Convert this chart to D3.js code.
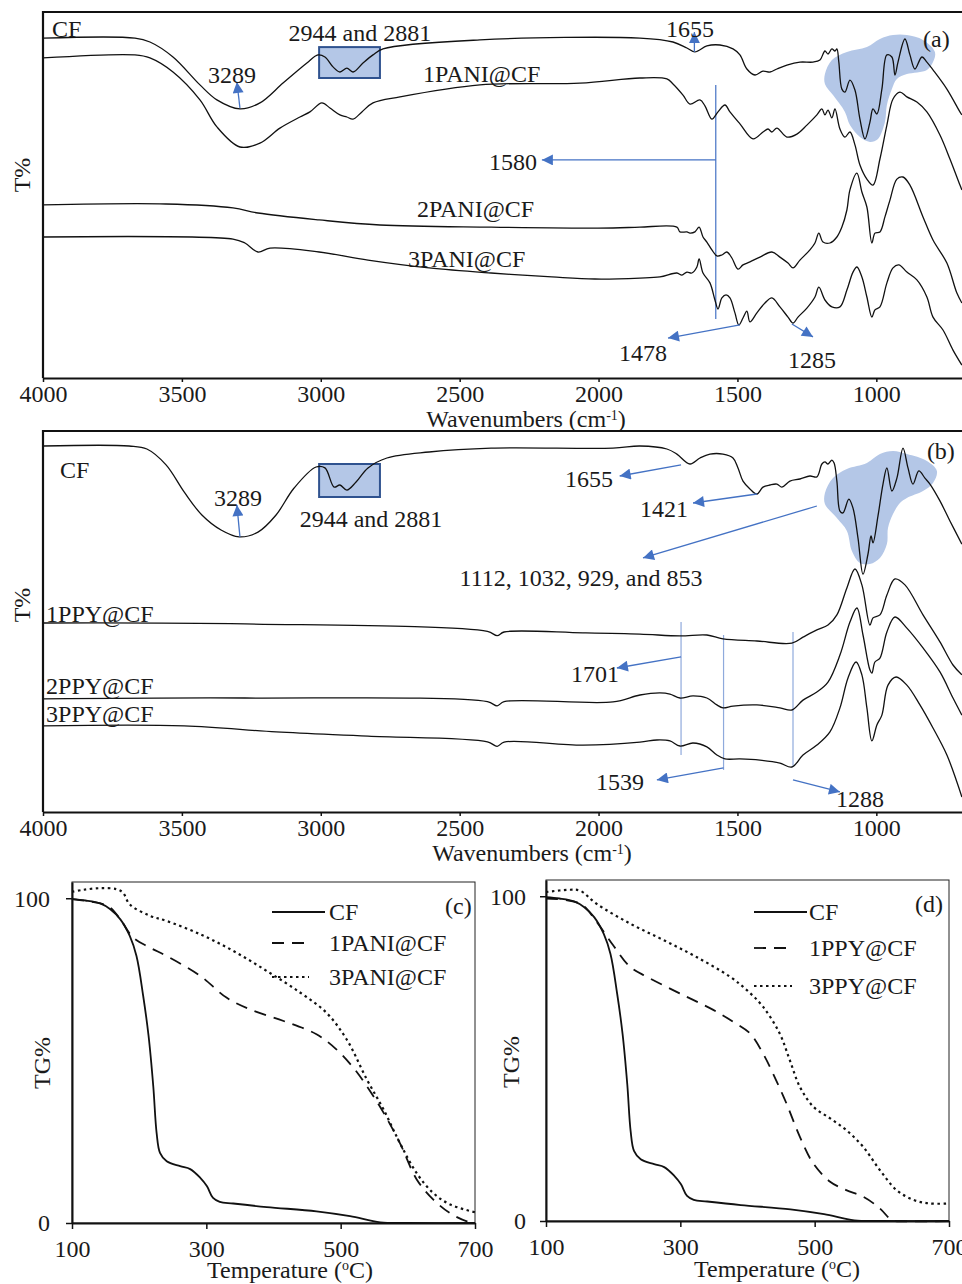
<!DOCTYPE html>
<html><head><meta charset="utf-8">
<script src="https://cdn.jsdelivr.net/npm/d3@7"></script>
<style>
body{margin:0;background:#fff;}
svg{display:block;font-family:"Liberation Serif","Times New Roman",serif;}
</style></head><body>
<svg id="chart" width="962" height="1284"></svg>
<script>
// ---------- tick values ----------
const wnTicks = [4000, 3500, 3000, 2500, 2000, 1500, 1000];
const tempTicks = [100, 300, 500, 700];
const tgTicks = [0, 100];

// ---------- FTIR (a): [wavenumber, T% (offset, arb. units)] ----------
const CF_A = [[4000,113.3],[3669,113.3],[3615,112],[3532,107],[3435,97.7],[3374,92.7],[3291,89.7],[3219,91.7],[3136,98.3],[3050,105],[3010,107.7],[2985,107],[2956,103.7],[2931,102],[2906,103.3],[2884,102],[2848,105],[2812,107.7],[2776,109.7],[2427,112.7],[1851,113.3],[1732,112],[1682,110],[1653,108.7],[1610,110.7],[1563,111],[1516,109.7],[1491,107.7],[1466,103],[1437,101],[1408,102.3],[1383,102],[1358,103],[1322,104.3],[1275,105.3],[1228,105.3],[1203,106],[1185,109],[1174,108],[1160,109.7],[1149,109],[1142,109.7],[1135,105.3],[1124,96.3],[1113,95.3],[1095,99.3],[1077,96],[1059,86.3],[1041,79.7],[1023,85.3],[1012,89.7],[998,88],[980,96.3],[962,107.7],[944,107],[933,101],[922,105.3],[897,113],[879,107.7],[861,103],[836,107],[818,105.3],[796,102.7],[746,96.3],[699,88.7],[692,87.7]];
const PANI1 = [[4000,106.7],[3669,107.7],[3615,106.7],[3532,102],[3435,92.7],[3374,83.7],[3291,77],[3219,78.3],[3147,83.3],[3075,87],[3039,88.7],[2996,91.7],[2967,90],[2931,87.7],[2906,87],[2884,86.3],[2852,88.7],[2812,91.7],[2715,93.7],[2427,97.7],[2067,98.3],[1851,100],[1754,99.7],[1732,98],[1696,94.3],[1671,91.3],[1635,92.7],[1617,90.7],[1592,86.3],[1570,88.7],[1545,91],[1527,88.7],[1491,84.7],[1444,79.7],[1408,82],[1390,83],[1376,82],[1358,83.3],[1322,80.3],[1286,81.3],[1250,84.3],[1214,87.7],[1196,89.7],[1185,87.7],[1174,89.3],[1160,86.7],[1149,89.7],[1131,83],[1113,80.3],[1095,82],[1077,77.7],[1059,71],[1034,66.3],[1012,64.3],[987,73],[962,84.3],[940,93],[915,95.3],[890,93.7],[854,92],[818,88.7],[771,81],[735,73],[699,64.3],[692,62.7]];
const PANI2 = [[4000,57.7],[3557,58],[3316,56.7],[3226,55],[3006,52.7],[2787,51],[2387,50.3],[1948,50],[1851,50.3],[1718,50.3],[1707,48.7],[1682,48.7],[1671,48.3],[1653,48.7],[1638,50.3],[1624,47],[1610,45.3],[1592,42.7],[1574,40.7],[1556,41],[1538,42],[1520,40],[1498,36.3],[1480,37.7],[1455,38.7],[1419,40.3],[1376,42],[1347,40.3],[1318,38.3],[1300,36.7],[1275,39.3],[1239,42.7],[1221,45],[1207,48.3],[1192,45.3],[1167,45],[1142,47],[1124,50.3],[1106,56],[1095,62.7],[1070,68.3],[1052,62],[1034,57],[1016,45],[1005,48.3],[987,48.7],[969,53.7],[951,59.3],[926,66.3],[904,67],[879,64.3],[832,53.7],[796,46],[746,38.3],[710,28.3],[692,25]];
const PANI3 = [[4000,47],[3316,46.3],[3273,45],[3226,42],[3183,43.3],[3006,42],[2830,39.3],[2610,36.7],[2387,35],[2168,33.7],[2013,33],[1851,33.3],[1779,33.7],[1718,35],[1700,34.3],[1682,35.3],[1664,35],[1646,37],[1638,39.7],[1624,35],[1599,31.7],[1581,26],[1570,23],[1556,26.7],[1541,27.7],[1527,26.7],[1509,21.7],[1495,17.7],[1480,20],[1466,22.3],[1455,18.7],[1430,21.7],[1401,25],[1376,26.7],[1347,23.7],[1318,20.3],[1300,18.3],[1282,20.3],[1250,23.3],[1221,27],[1207,30.3],[1185,26],[1160,23.7],[1131,23.7],[1106,29.3],[1084,35.3],[1070,37],[1052,33.7],[1034,27],[1016,20.3],[1005,22.7],[987,23.7],[962,31.7],[940,36.7],[919,37.7],[890,35.3],[854,32.7],[818,27],[796,20.3],[760,16],[724,9.3],[692,4.3]];

// ---------- FTIR (b) ----------
const CF_B = [[4000,122],[3690,122],[3626,121],[3557,115.7],[3492,106.7],[3428,99],[3359,94],[3294,91.7],[3226,93.3],[3161,99],[3096,108],[3017,115],[2985,114.7],[2952,108.3],[2931,109],[2906,107.3],[2873,110],[2830,114.7],[2762,118],[2610,120],[2387,121.3],[1948,121.3],[1851,122],[1754,121],[1718,119.3],[1671,116],[1635,118],[1599,119.3],[1552,119.3],[1516,118],[1498,114.7],[1480,110.3],[1455,107.7],[1430,106],[1408,108.3],[1383,109],[1358,109.3],[1340,108.3],[1311,110.3],[1275,111],[1239,112],[1214,111.7],[1196,116],[1185,116.7],[1174,116],[1160,117.3],[1152,116.3],[1142,110.3],[1131,100.3],[1120,99.7],[1099,104.3],[1084,101.3],[1066,91.3],[1048,79.3],[1030,86],[1019,92],[1012,89.7],[994,98.7],[976,109.3],[962,114.7],[944,107],[926,111.3],[904,121.3],[886,114.7],[868,109.3],[847,113.7],[825,111.3],[807,109.3],[771,103.7],[735,97],[692,89.3]];
const PPY1 = [[4000,63],[3273,62.7],[2400,60.2],[2365,58.8],[2340,60],[2056,59.7],[1851,59.3],[1707,58.7],[1610,59],[1552,57.7],[1430,57],[1304,56.3],[1264,58.3],[1214,60.7],[1174,62.3],[1142,65.7],[1106,74.7],[1077,81],[1052,75.7],[1023,62.3],[1012,64.7],[987,65.7],[962,72.3],[933,77.7],[897,75.7],[832,65.7],[771,56.7],[724,49],[692,45.7]];
const PPY2 = [[4000,37.7],[3273,38],[2400,36.8],[2365,35.4],[2340,36.8],[1948,36.7],[1851,39],[1779,39.7],[1743,39.3],[1707,38],[1660,38.7],[1610,38],[1574,35.7],[1552,34.7],[1516,35.3],[1430,35.7],[1347,34.7],[1304,34],[1264,37.3],[1214,40],[1174,43.3],[1131,52.3],[1095,63.3],[1070,68],[1048,59],[1023,47.3],[1016,46.3],[1005,50],[987,51.3],[962,60],[933,65],[890,61.3],[832,54.7],[771,46.7],[724,38],[692,32.3]];
const PPY3 = [[4000,28.7],[3492,28.7],[3161,26.7],[2830,25.3],[2400,23.4],[2365,21.9],[2340,23.3],[2056,22.3],[1851,23.3],[1790,24],[1743,23.7],[1707,22],[1660,23],[1610,21.7],[1574,19],[1545,17.7],[1491,17.7],[1419,17.3],[1347,16.3],[1304,15],[1264,19],[1214,22.3],[1167,26.7],[1131,34.7],[1102,44.7],[1073,50],[1052,45.7],[1034,34.7],[1016,23.7],[998,29],[980,32.3],[958,42.3],[929,45],[890,42.3],[843,35.7],[796,28],[746,19],[710,10],[692,5]];

// highlighted regions (wavenumber, T)
const BLOB_A = [[1185,101.3],[1160,106],[1106,108.7],[1034,110.3],[987,113],[940,114.3],[890,114.3],[832,112.7],[789,108.7],[796,105.3],[818,102.7],[890,101.3],[926,99.7],[944,96.3],[962,91],[969,85.3],[994,79.7],[1023,78.7],[1059,80.3],[1095,84.3],[1113,88.7],[1156,94.3],[1185,98]];
const BLOB_B = [[1185,106.3],[1156,111.3],[1106,114.3],[1034,116.3],[987,119.3],[940,120.3],[890,119.3],[818,117],[782,113.7],[796,109.7],[832,107],[890,104.7],[915,103],[940,99.3],[958,94.7],[962,89.3],[987,84.7],[1023,82.7],[1059,83],[1088,87],[1106,93.7],[1142,98],[1185,102.7]];

// ---------- TGA: [temperature °C, TG %] ----------
const TG_CF = [[100,99.7],[120,99.3],[142,98.4],[157,96.6],[172,93.5],[186,88.4],[196,82.2],[206,69.9],[214,57.6],[221,42.1],[226,27.7],[231,21.6],[241,19],[261,17.5],[276,16.6],[291,13.9],[301,11.3],[310,7.7],[320,6.5],[340,6],[390,4.9],[464,3.6],[514,2.1],[559,0.2],[600,0],[700,0]];
const TG_PANI1 = [[100,99.7],[142,98.4],[157,97.1],[172,93.5],[191,87.9],[216,84.8],[241,82.2],[291,76.1],[330,69.4],[365,65.8],[415,62.2],[464,58.1],[494,53.4],[519,47.8],[539,42.1],[564,33.9],[588,24.7],[613,13.5],[638,7.2],[663,3],[688,0.5],[700,0]];
const TG_PANI3 = [[100,102],[117,102.6],[142,103.1],[166,102.8],[176,101.7],[186,98.1],[216,94.6],[241,93],[291,88.9],[340,83.8],[390,77.6],[440,70.9],[479,64.7],[509,56.5],[539,44.2],[564,34.9],[588,24.7],[613,15.4],[638,9.2],[663,5.7],[700,3.3]];
const TG_PPY1 = [[100,99.3],[151,97.7],[175,92.2],[200,84.9],[225,78.3],[250,75.2],[299,70.1],[349,65],[379,61.3],[404,57.7],[423,51.6],[438,45.4],[458,36.2],[478,25.9],[498,17.7],[523,12.1],[547,9.5],[572,7.5],[597,3.9],[614,0.3],[620,0],[700,0]];
const TG_PPY3 = [[100,101.3],[136,102],[151,101.7],[175,97.7],[225,91.6],[275,86.5],[324,81.3],[374,75.2],[399,71.1],[423,66],[448,57.7],[463,49.5],[478,41.3],[498,35.2],[523,31.6],[547,28],[572,22.9],[597,15.7],[622,9.5],[647,6.5],[671,5.4],[700,5.4]];

// ---------- drawing ----------
const svg = d3.select("#chart");
const FS = 24, TXT = "#1a1a1a", BLUE = "#4472c4", LIGHTBLUE = "#b4c7e7";

const defs = svg.append("defs");
defs.append("marker").attr("id", "arr").attr("viewBox", "0 0 10 10")
  .attr("refX", 10).attr("refY", 5).attr("markerWidth", 13).attr("markerHeight", 11)
  .attr("markerUnits", "userSpaceOnUse").attr("orient", "auto")
  .append("path").attr("d", "M0,0 L10,5 L0,10 Z").attr("fill", BLUE);

function txt(g, x, y, s, anchor) {
  return g.append("text").attr("x", x).attr("y", y).attr("text-anchor", anchor || "start")
    .attr("font-size", FS).attr("fill", TXT).text(s);
}

function ftirPanel(cfg) {
  const g = svg.append("g");
  const x = d3.scaleLinear().domain([4000, 400]).range([43, 1043]);
  const y = d3.scaleLinear().domain([0, cfg.ymax]).range([cfg.bottom, cfg.top]);
  const clipId = cfg.id + "-clip";
  defs.append("clipPath").attr("id", clipId).append("rect")
    .attr("x", 43).attr("y", cfg.top).attr("width", 962 - 43).attr("height", cfg.bottom - cfg.top);
  const plot = g.append("g").attr("clip-path", `url(#${clipId})`);

  plot.append("path").datum(cfg.blob)
    .attr("d", d3.line().x(d => x(d[0])).y(d => y(d[1])).curve(d3.curveCatmullRomClosed.alpha(0.5)))
    .attr("fill", LIGHTBLUE);
  plot.append("rect").attr("x", x(cfg.box[0])).attr("y", y(cfg.box[3]))
    .attr("width", x(cfg.box[1]) - x(cfg.box[0])).attr("height", y(cfg.box[2]) - y(cfg.box[3]))
    .attr("fill", LIGHTBLUE).attr("stroke", "#2f528f").attr("stroke-width", 2);

  cfg.vlines.forEach(v => {
    plot.append("line").attr("x1", x(v.wn)).attr("x2", x(v.wn)).attr("y1", y(v.from)).attr("y2", y(v.to))
      .attr("stroke", v.color).attr("stroke-width", 1.2);
  });

  const line = d3.line().x(d => x(d[0])).y(d => y(d[1])).curve(d3.curveCatmullRom.alpha(0.5));
  cfg.series.forEach(s => {
    plot.append("path").datum(s).attr("d", line).attr("fill", "none")
      .attr("stroke", "#111").attr("stroke-width", 1.3).attr("stroke-linejoin", "round");
  });

  cfg.arrows.forEach(a => {
    g.append("line").attr("x1", x(a.from[0])).attr("y1", y(a.from[1]))
      .attr("x2", x(a.to[0])).attr("y2", y(a.to[1]))
      .attr("stroke", BLUE).attr("stroke-width", 1.3).attr("marker-end", "url(#arr)");
  });
  cfg.labels.forEach(l => txt(g, x(l.at[0]), y(l.at[1]), l.text, l.anchor));

  g.append("line").attr("x1", 43).attr("x2", 962).attr("y1", cfg.top).attr("y2", cfg.top)
    .attr("stroke", "#111").attr("stroke-width", 2.2);
  g.append("line").attr("x1", 43).attr("x2", 43).attr("y1", cfg.top - 1).attr("y2", cfg.bottom)
    .attr("stroke", "#111").attr("stroke-width", 2.2);
  const ax = g.append("g").attr("transform", `translate(0,${cfg.bottom})`)
    .call(d3.axisBottom(x).tickValues(wnTicks).tickSize(4).tickSizeOuter(0).tickFormat(d3.format("d")));
  ax.attr("font-size", null).attr("font-family", null);
  ax.select(".domain").attr("stroke", "#111").attr("stroke-width", 2.2);
  ax.selectAll(".tick line").attr("stroke", "#111").attr("stroke-width", 1.5);
  ax.selectAll(".tick text").attr("y", 24).attr("dy", 0).attr("font-size", FS).attr("fill", TXT);

  const t = g.append("text").attr("x", cfg.titleX).attr("y", cfg.bottom + 49).attr("text-anchor", "middle")
    .attr("font-size", FS).attr("fill", TXT);
  t.append("tspan").text("Wavenumbers (cm");
  t.append("tspan").attr("dy", -7).attr("font-size", 14).text("-1");
  t.append("tspan").attr("dy", 7).text(")");
  g.append("text").attr("transform", `translate(22,${cfg.ylabY}) rotate(-90)`).attr("text-anchor", "middle")
    .attr("dy", "0.35em").attr("font-size", FS).attr("fill", TXT).text("T%");
}

ftirPanel({
  id: "pa", top: 12, bottom: 378, ymax: 122, titleX: 526, ylabY: 175,
  series: [CF_A, PANI1, PANI2, PANI3],
  blob: BLOB_A,
  box: [3006, 2787, 100, 110.3],
  vlines: [{wn: 1578, from: 19.7, to: 97.7, color: BLUE}],
  arrows: [
    {from: [3291, 90], to: [3302, 98.7]},
    {from: [1655, 108.7], to: [1655, 115.3]},
    {from: [1578, 72.7], to: [2204, 72.7]},
    {from: [1491, 17.7], to: [1750, 13.3]},
    {from: [1304, 18], to: [1228, 13.7]}
  ],
  labels: [
    {text: "3289", at: [3320, 98.3], anchor: "middle"},
    {text: "1655", at: [1671, 113.7], anchor: "middle"},
    {text: "1580", at: [2222, 69.3], anchor: "end"},
    {text: "1478", at: [1840, 5.7], anchor: "middle"},
    {text: "1285", at: [1232, 3.3], anchor: "middle"},
    {text: "2944 and 2881", at: [2859, 112.3], anchor: "middle"},
    {text: "CF", at: [3968, 113.7], anchor: "start"},
    {text: "1PANI@CF", at: [2632, 98.7], anchor: "start"},
    {text: "2PANI@CF", at: [2654, 53.7], anchor: "start"},
    {text: "3PANI@CF", at: [2686, 37], anchor: "start"},
    {text: "(a)", at: [832, 110.3], anchor: "start"}
  ]
});

ftirPanel({
  id: "pb", top: 431, bottom: 812, ymax: 127, titleX: 532, ylabY: 605,
  series: [CF_B, PPY1, PPY2, PPY3],
  blob: BLOB_B,
  box: [3006, 2787, 105, 116],
  vlines: [
    {wn: 1703, from: 19, to: 63.3, color: "#8faadc"},
    {wn: 1550, from: 14, to: 59, color: "#8faadc"},
    {wn: 1300, from: 15, to: 60, color: "#8faadc"}
  ],
  arrows: [
    {from: [3291, 91.7], to: [3302, 102.3]},
    {from: [1703, 115.7], to: [1924, 112]},
    {from: [1430, 106], to: [1660, 103]},
    {from: [1214, 102], to: [1840, 84.7]},
    {from: [1703, 51.7], to: [1934, 48]},
    {from: [1550, 14.7], to: [1790, 10.7]},
    {from: [1300, 10.7], to: [1131, 6.7]}
  ],
  labels: [
    {text: "3289", at: [3298, 102], anchor: "middle"},
    {text: "2944 and 2881", at: [2819, 95], anchor: "middle"},
    {text: "1655", at: [2034, 108.3], anchor: "middle"},
    {text: "1421", at: [1764, 98.3], anchor: "middle"},
    {text: "1112, 1032, 929, and 853", at: [2063, 75.3], anchor: "middle"},
    {text: "1701", at: [2013, 43.3], anchor: "middle"},
    {text: "1539", at: [1923, 7.3], anchor: "middle"},
    {text: "1288", at: [1059, 1.7], anchor: "middle"},
    {text: "CF", at: [3939, 111.3], anchor: "start"},
    {text: "1PPY@CF", at: [3989, 63.3], anchor: "start"},
    {text: "2PPY@CF", at: [3989, 39.3], anchor: "start"},
    {text: "3PPY@CF", at: [3989, 30], anchor: "start"},
    {text: "(b)", at: [818, 117.7], anchor: "start"}
  ]
});

function tgaPanel(cfg) {
  const g = svg.append("g");
  const x = d3.scaleLinear().domain([100, 700]).range([cfg.left, cfg.right]);
  const y = d3.scaleLinear().domain([0, 105]).range([cfg.bottom, cfg.top]);
  g.append("rect").attr("x", cfg.left).attr("y", cfg.top).attr("width", cfg.right - cfg.left)
    .attr("height", cfg.bottom - cfg.top).attr("fill", "none").attr("stroke", "#222").attr("stroke-width", 1);

  const line = d3.line().x(d => x(d[0])).y(d => y(d[1])).curve(d3.curveCatmullRom.alpha(0.5));
  const styles = [
    {dash: null, w: 1.8},
    {dash: "12,8", w: 1.8},
    {dash: "2.5,3.5", w: 2.2}
  ];
  cfg.series.forEach((s, i) => {
    g.append("path").datum(s).attr("d", line).attr("fill", "none").attr("stroke", "#111")
      .attr("stroke-width", styles[i].w).attr("stroke-dasharray", styles[i].dash);
  });

  const ax = g.append("g").attr("transform", `translate(0,${cfg.bottom})`)
    .call(d3.axisBottom(x).tickValues(tempTicks).tickSize(6).tickSizeOuter(0));
  ax.attr("font-size", null).attr("font-family", null);
  ax.select(".domain").attr("stroke", "#111").attr("stroke-width", 2);
  ax.selectAll(".tick line").attr("stroke", "#111").attr("stroke-width", 1.5);
  ax.selectAll(".tick text").attr("y", cfg.xlabOff).attr("dy", 0).attr("font-size", FS).attr("fill", TXT);

  const ay = g.append("g").attr("transform", `translate(${cfg.left},0)`)
    .call(d3.axisLeft(y).tickValues(tgTicks).tickSize(6).tickSizeOuter(0));
  ay.attr("font-size", null).attr("font-family", null);
  ay.select(".domain").attr("stroke", "#111").attr("stroke-width", 2);
  ay.selectAll(".tick line").attr("stroke", "#111").attr("stroke-width", 1.5);
  ay.selectAll(".tick text").attr("x", -cfg.ylabOff).attr("dy", "0.33em").attr("font-size", FS).attr("fill", TXT);

  const t = g.append("text").attr("x", cfg.titleX).attr("y", cfg.titleY).attr("text-anchor", "middle")
    .attr("font-size", FS).attr("fill", TXT);
  t.append("tspan").text("Temperature (");
  t.append("tspan").attr("dy", -8).attr("font-size", 14).text("o");
  t.append("tspan").attr("dy", 8).text("C)");
  g.append("text").attr("transform", `translate(${cfg.tgX},${cfg.tgY}) rotate(-90)`).attr("text-anchor", "middle")
    .attr("dy", "0.35em").attr("font-size", FS).attr("fill", TXT).text("TG%");

  cfg.legend.forEach((name, i) => {
    const ly = cfg.legY[i];
    g.append("line").attr("x1", cfg.legX).attr("x2", cfg.legX + cfg.legLen[i]).attr("y1", ly).attr("y2", ly)
      .attr("stroke", "#111").attr("stroke-width", styles[i].w).attr("stroke-dasharray", styles[i].dash);
    txt(g, cfg.legTextX, ly + 8, name, "start");
  });
  txt(g, cfg.tagX, cfg.tagY, cfg.tag, "start");
}

tgaPanel({
  left: 72, right: 475, top: 882, bottom: 1223, xlabOff: 34, ylabOff: 22,
  series: [TG_CF, TG_PANI1, TG_PANI3],
  titleX: 290, titleY: 1278, tgX: 42, tgY: 1063,
  legend: ["CF", "1PANI@CF", "3PANI@CF"], legX: 272, legLen: [53, 38, 37], legTextX: 329,
  legY: [912, 943, 977], tag: "(c)", tagX: 445, tagY: 914
});
tgaPanel({
  left: 546, right: 949, top: 880, bottom: 1221, xlabOff: 34, ylabOff: 20,
  series: [TG_CF, TG_PPY1, TG_PPY3],
  titleX: 777, titleY: 1277, tgX: 511, tgY: 1062,
  legend: ["CF", "1PPY@CF", "3PPY@CF"], legLen: [53, 38, 38], legX: 754, legTextX: 809,
  legY: [912, 948, 986], tag: "(d)", tagX: 915, tagY: 912
});
</script>
</body></html>
